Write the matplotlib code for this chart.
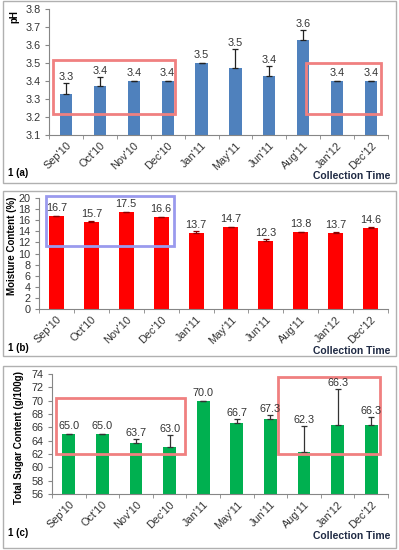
import numpy as np
import matplotlib.pyplot as plt
from matplotlib.patches import Rectangle

plt.rcParams['font.family'] = ['Liberation Sans', 'DejaVu Sans']

months = ["Sep'10", "Oct'10", "Nov'10", "Dec'10", "Jan'11",
          "May'11", "Jun'11", "Aug'11", "Jan'12", "Dec'12"]

ph = [3.33, 3.37, 3.40, 3.40, 3.50, 3.47, 3.43, 3.63, 3.40, 3.40]
ph_err = [0.06, 0.05, 0, 0, 0, 0.11, 0.055, 0.055, 0, 0]

moisture = [16.7, 15.7, 17.5, 16.6, 13.7, 14.7, 12.3, 13.8, 13.7, 14.6]
moisture_err = [0.1, 0.1, 0.05, 0.05, 0.3, 0.1, 0.4, 0.05, 0.1, 0.1]

sugar = [65.0, 65.0, 63.7, 63.0, 70.0, 66.7, 67.3, 62.3, 66.3, 66.3]
sugar_err = [0, 0, 0.6, 1.8, 0, 0.5, 0.6, 3.9, 5.5, 1.2]

W, H = 399, 550
fig = plt.figure(figsize=(W / 100, H / 100), dpi=100)


def px_axes(x0, y0, x1, y1):
    # pixel box (top-left origin) -> figure axes
    return fig.add_axes([x0 / W, 1 - y1 / H, (x1 - x0) / W, (y1 - y0) / H])


def frame(y0, y1):
    fig.patches.append(Rectangle((2.5 / W, 1 - y1 / H), (396 - 2.5) / W, (y1 - y0) / H,
                                 transform=fig.transFigure, fill=False,
                                 edgecolor='#b0b0b0', lw=1))


def panel(ax, vals, errs, color, ecolor, width, ylim, step, ylabel, tag,
          ylab_x, ylab_y, text_y):
    x = np.arange(len(vals))
    ax.bar(x, vals, width=width, color=color, zorder=2)
    ax.errorbar(x, vals, yerr=[np.zeros(len(errs)), errs], fmt='none',
                ecolor=ecolor, elinewidth=0.9, capsize=2.5, capthick=0.9, zorder=3)
    ax.set_xlim(-0.5, len(vals) - 0.5)
    ax.set_ylim(*ylim)
    # value labels: a bit above the bar, or just above the error cap
    inv = ax.transData.inverted()
    for xi, v, e in zip(x, vals, errs):
        yb = ax.transData.transform((xi, v))[1] + 5
        ye = ax.transData.transform((xi, v + e))[1] + 3
        ly = inv.transform((0, max(yb, ye)))[1]
        ax.text(xi, ly, '{:.1f}'.format(v), ha='center', va='baseline',
                fontsize=7.8, color='#333333', zorder=5)
    ax.set_yticks(np.arange(ylim[0], ylim[1] + step / 2, step))
    if step < 1:
        ax.set_yticklabels(['{:.1f}'.format(t) for t in ax.get_yticks()])
    ax.set_xticks(x)
    ax.set_xticklabels(months, rotation=45, ha='right', rotation_mode='anchor',
                       fontsize=7.8, color='#333333')
    ax.set_xticks(np.arange(-0.5, len(vals), 1), minor=True)
    ax.tick_params(axis='x', which='major', length=0, pad=4)
    ax.tick_params(axis='x', which='minor', length=3, color='#868686')
    ax.tick_params(axis='y', length=3, color='#868686', labelsize=7.8,
                   labelcolor='#333333', pad=3)
    for s in ['top', 'right']:
        ax.spines[s].set_visible(False)
    for s in ['left', 'bottom']:
        ax.spines[s].set_color('#868686')
        ax.spines[s].set_linewidth(0.8)
    fig.text(ylab_x / W, 1 - ylab_y / H, ylabel, rotation=90, ha='center', va='center',
             fontsize=7, fontweight='bold')
    fig.text(8 / W, 1 - text_y / H, tag, ha='left', va='center',
             fontsize=7, fontweight='bold')
    fig.text(390 / W, 1 - (text_y + 3) / H, 'Collection Time', ha='right', va='center',
             fontsize=7.5, fontweight='bold', color='#1f2a44',
             family=['Liberation Sans Narrow', 'Liberation Sans'])


def box(ax, x0, x1, y0, y1, color):
    ax.add_patch(Rectangle((x0, y0), x1 - x0, y1 - y0, fill=False, edgecolor=color,
                           lw=2, clip_on=False, zorder=4))


frame(1, 183)
frame(191, 356)
frame(366, 548)

ax1 = px_axes(49, 9, 388, 135)
panel(ax1, ph, ph_err, '#4f81bd', '#222222', 0.36, (3.1, 3.8), 0.1, 'pH', '1 (a)',
      14, 17, 173)
box(ax1, -0.38, 3.22, 3.217, 3.517, '#f08080')
box(ax1, 7.08, 9.29, 3.217, 3.50, '#f08080')

ax2 = px_axes(39, 198, 388, 309)
panel(ax2, moisture, moisture_err, '#ff0000', '#8b0000', 0.43, (0, 20), 2,
      'Moisture Content (%)', '1 (b)', 12, 246, 348)
box(ax2, -0.3, 3.37, 11.4, 20.36, '#9a9aee')

ax3 = px_axes(52, 374, 388, 494)
panel(ax3, sugar, sugar_err, '#00b050', '#333333', 0.38, (56, 74), 2,
      'Total Sugar Content (g/100g)', '1 (c)', 19, 438, 533)
box(ax3, -0.38, 3.46, 62.0, 70.45, '#f08080')
box(ax3, 6.23, 9.26, 62.0, 73.6, '#f08080')

fig.savefig('out.png', dpi=100)
